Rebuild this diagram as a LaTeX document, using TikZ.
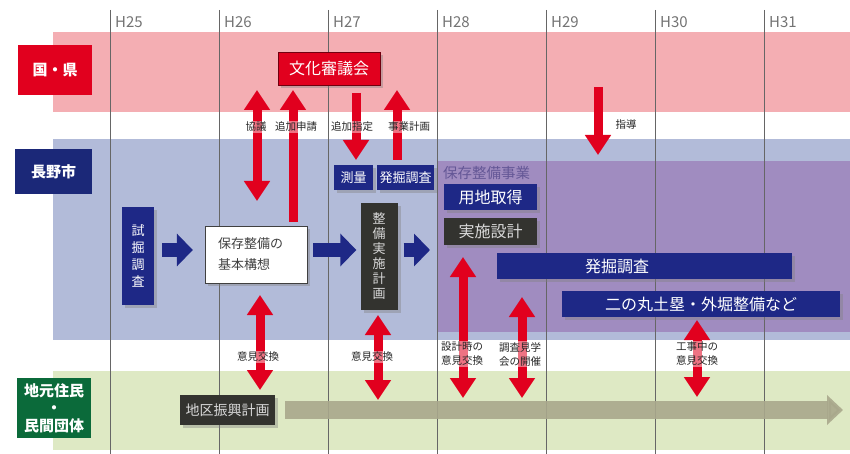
\documentclass[tikz,border=0pt]{standalone}
\usepackage{fontspec}
\setmainfont{Noto Sans CJK JP}
\usetikzlibrary{arrows.meta,shadows}

\definecolor{bandred}{HTML}{F4AEB3}
\definecolor{bandblue}{HTML}{B2BBD9}
\definecolor{bandpurple}{HTML}{A08CC0}
\definecolor{bandgreen}{HTML}{DEE9C4}
\definecolor{kenred}{HTML}{E1001E}
\definecolor{cityblue}{HTML}{1B2878}
\definecolor{boxblue}{HTML}{1E2886}
\definecolor{boxgray}{HTML}{33332F}
\definecolor{townsgreen}{HTML}{0B6A3A}
\definecolor{planolive}{HTML}{A9A88C}
\definecolor{jigyotext}{HTML}{645796}

\begin{document}
\begin{tikzpicture}
    [x=1pt, y=-1pt,
     year/.style={anchor=west, inner sep=0pt, text=black!55, font=\fontsize{15}{17}\selectfont},
     side/.style={text=white, inner sep=0pt, align=center, font=\bfseries\fontsize{15}{17}\selectfont},
     box/.style={inner sep=0pt, text=white, drop shadow={opacity=0.4, shadow xshift=3pt, shadow yshift=-3pt}},
     bluebox/.style={box, fill=boxblue, font=\fontsize{16}{18}\selectfont},
     graybox/.style={box, fill=boxgray, text=white!85!black, font=\fontsize{16}{18}\selectfont},
     memo/.style={inner sep=1pt, align=center, text=black!85, fill=white, fill opacity=0.45, text opacity=1,
                  font=\fontsize{10.5}{14}\selectfont},
     redarrow/.style={draw=kenred, line width=9pt, >={Triangle[width=25pt,length=20pt]}},
     flow/.style={draw=boxblue, line width=14pt, ->, >={Triangle[width=32pt,length=16pt]}},
     plan/.style={draw=planolive, opacity=0.9, line width=18pt, -{Triangle[width=29pt,length=16pt]}}]
    \useasboundingbox (0,0) rectangle (850,454);

    % bands
    \fill[bandred] (53,32) rectangle (850,112);
    \fill[bandblue] (53,139) rectangle (850,340);
    \fill[bandpurple] (437,161) rectangle (850,332);
    \fill[bandgreen] (53,371) rectangle (850,450);

    % years
    \foreach \y [count=\i from 0] in {25,...,31} {
        \draw[black!60, line width=0.8pt] (110+109*\i,10) -- (110+109*\i,454);
        \node[year] (h\y) at (115+109*\i,22) {H\y};
    }

    % actors
    \node[side, fill=kenred, minimum width=74pt, minimum height=50pt] (kuni) at (55,70) {国・県};
    \node[side, fill=cityblue, minimum width=77pt, minimum height=45pt] (nagano) at (53.5,172) {長野市};
    \node[side, fill=townsgreen, minimum width=74pt, minimum height=60pt,
          font=\bfseries\fontsize{15}{17.5}\selectfont] (jimoto) at (54,408) {地元住民\\・\\民間団体};

    % boxes
    \node[box, fill=kenred, draw=kenred!50!black, minimum width=102pt, minimum height=33pt,
          font=\fontsize{16}{18}\selectfont] (bunka) at (329,68.5) {文化審議会};
    \node[bluebox, minimum width=39pt, minimum height=25pt, font=\fontsize{13}{15}\selectfont] (sokuryo) at (353.5,177.5) {測量};
    \node[bluebox, minimum width=57pt, minimum height=25pt, font=\fontsize{13}{15}\selectfont] (kussaku) at (405.5,177.5) {発掘調査};
    \node[anchor=west, inner sep=0pt, text=jigyotext, font=\fontsize{14.5}{16}\selectfont] (jigyo) at (443,173) {保存整備事業};
    \node[bluebox, minimum width=93pt, minimum height=26pt] (yochi) at (490.5,197) {用地取得};
    \node[graybox, minimum width=93pt, minimum height=27pt] (jisshi) at (490.5,231.5) {実施設計};
    \node[bluebox, text width=295pt, minimum height=26pt] (hakkutsu) at (644.5,266) {\hspace*{88pt}発掘調査};
    \node[bluebox, minimum width=278pt, minimum height=26pt] (ninomaru) at (701,304) {二の丸土塁・外堀整備など};
    \node[bluebox, minimum width=32pt, minimum height=98pt, align=center,
          font=\fontsize{13}{17}\selectfont] (shikutsu) at (138,256) {試\\掘\\調\\査};
    \node[box, fill=white, draw=black!75, text=black!75, text width=76pt, inner xsep=13pt, minimum height=57pt,
          align=left, font=\fontsize{13}{21}\selectfont] (kihon) at (256,254.5) {保存整備の\\基本構想};
    \node[graybox, minimum width=37pt, minimum height=107pt, align=center,
          font=\fontsize{13}{15}\selectfont] (seibi) at (379,256.5) {整\\備\\実\\施\\計\\画};
    \node[graybox, minimum width=95pt, minimum height=30pt, font=\fontsize{14}{16}\selectfont] (chiku) at (227.5,410) {地区振興計画};

    % flow
    \coordinate (row) at (0,250);
    \coordinate (hozon) at (437,250);
    \draw[flow, shorten <=8pt, shorten >=12pt] (shikutsu.east |- row) -- (kihon.west |- row);
    \draw[flow, shorten <=6pt, shorten >=4pt] (kihon.east |- row) -- (seibi.west |- row);
    \draw[flow, shorten <=6pt, shorten >=7pt] (seibi.east |- row) -- (hozon);

    \coordinate (plan end) at (843,410);
    \draw[plan, shorten <=10pt] (chiku.east) -- (plan end);

    % red arrows
    \foreach \n/\x/\ya/\yb/\tip in {kyogi/257/90/201/<->, shinsei/293/90/222/<-, shitei/356/93/160/->,
        keikaku/397/90/160/<-, shido/598/87/155/->, iken1/260/295/390/<->, iken2/378/315/400/<->,
        setsumei/463/257/398/<->, kengaku/522/297/398/<->, koji/697/320/397/<->} {
        \coordinate (\n top) at (\x,\ya);
        \coordinate (\n bot) at (\x,\yb);
        \draw[redarrow, \tip] (\n top) -- (\n bot);
    }

    % memos
    \node[memo] (kyogi) at (256,127) {協議};
    \node[memo] (shinsei) at (296,127) {追加申請};
    \node[memo] (shitei) at (352,127) {追加指定};
    \node[memo] (keikaku) at (409,127) {事業計画};
    \node[memo] (shido) at (626,125) {指導};
    \node[memo] (iken1) at (258,357) {意見交換};
    \node[memo] (iken2) at (372,357) {意見交換};
    \node[memo] (setsumei) at (462,354) {設計時の\\意見交換};
    \node[memo] (kengaku) at (520,354) {調査見学\\会の開催};
    \node[memo] (koji) at (697,354) {工事中の\\意見交換};
\end{tikzpicture}
\end{document}
